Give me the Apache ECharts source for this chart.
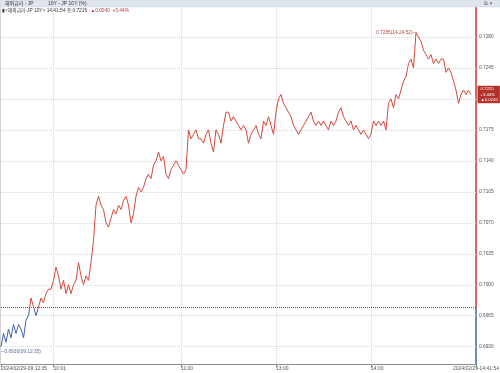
<!DOCTYPE html>
<html><head><meta charset="utf-8">
<script src="https://cdn.jsdelivr.net/npm/echarts@6/dist/echarts.min.js"></script>
<style>html,body{margin:0;padding:0;background:#fff}#c{width:500px;height:373px}</style>
</head><body><div id="c"></div>
<script>
// ---- data ----
const values = [
0.6930,0.6945,0.6935,0.6950,0.6940,0.6955,0.6945,0.6955,0.6950,0.6940,
0.6960,0.6965,0.6985,0.6975,0.6965,0.6975,0.6985,0.6980,0.6990,0.6995,
0.6995,0.7005,0.7020,0.7010,0.6995,0.7005,0.6990,0.7000,0.6990,0.7000,
0.7005,0.7025,0.7010,0.7000,0.7010,0.7005,0.7025,0.7050,0.7090,0.7100,
0.7090,0.7085,0.7070,0.7065,0.7075,0.7085,0.7080,0.7090,0.7085,0.7095,
0.7100,0.7090,0.7070,0.7080,0.7100,0.7110,0.7105,0.7110,0.7120,0.7125,
0.7120,0.7135,0.7140,0.7150,0.7140,0.7145,0.7125,0.7120,0.7130,0.7135,
0.7140,0.7135,0.7130,0.7125,0.7130,0.7175,0.7165,0.7170,0.7175,0.7165,
0.7165,0.7160,0.7170,0.7175,0.7160,0.7150,0.7175,0.7170,0.7160,0.7180,
0.7195,0.7195,0.7185,0.7190,0.7185,0.7180,0.7175,0.7180,0.7175,0.7160,
0.7170,0.7175,0.7180,0.7170,0.7165,0.7185,0.7180,0.7190,0.7180,0.7170,
0.7195,0.7210,0.7215,0.7205,0.7200,0.7195,0.7190,0.7180,0.7175,0.7170,
0.7175,0.7180,0.7185,0.7190,0.7195,0.7185,0.7180,0.7185,0.7180,0.7185,
0.7180,0.7175,0.7185,0.7180,0.7185,0.7195,0.7200,0.7190,0.7185,0.7180,
0.7185,0.7175,0.7180,0.7175,0.7170,0.7175,0.7170,0.7165,0.7170,0.7185,
0.7180,0.7185,0.7180,0.7185,0.7175,0.7205,0.7210,0.7200,0.7215,0.7210,
0.7220,0.7230,0.7235,0.7250,0.7255,0.7245,0.7285,0.7280,0.7275,0.7265,
0.7260,0.7255,0.7260,0.7250,0.7255,0.7250,0.7255,0.7255,0.7240,0.7245,
0.7240,0.7230,0.7220,0.7205,0.7215,0.7220,0.7215,0.7220,0.7215
];
const slotCount = 191;                 // category slots on the time axis
const tickIndex = [0, 21, 72, 110, 148, 190];
const tickText  = ['2024/02/29-09:12:35', '10:01', '11:00', '13:00', '14:00', '2024/02/29-14:41:54'];
const yTicks = [0.6930, 0.6965, 0.7000, 0.7035, 0.7070, 0.7105, 0.7140, 0.7175, 0.7210, 0.7245, 0.7280];
const prevClose = 0.6975;
const lastValue = 0.7215;
const changeText = '▲0.0240';
const pctText = '+3.44%';
const highIndex = 166, highValue = 0.7285, highTime = '14:24:52';
const lowIndex = 0, lowValue = 0.6930, lowTime = '09:12:35';
const yMin = 0.6910, yMax = 0.7315;

// ---- styling ----
const RED = '#d4473a', BLUE = '#3d63b0', AXRED = '#c9352c';
const FONT = 'Liberation Sans, Noto Sans CJK KR, sans-serif';
const categories = Array.from({length: slotCount}, (_, i) => String(i));
const isTick = (i) => tickIndex.indexOf(i) >= 0;
const isMajor = (v) => yTicks.some(t => Math.abs(t - v) < 1e-7);
const axFrac = (yMax - prevClose) / (yMax - yMin);
const dMax = Math.max(...values), dMin = Math.min(...values);
const lineFrac = (dMax - prevClose) / (dMax - dMin);
const split = (top, bottom, f) => ({type: 'linear', x: 0, y: 0, x2: 0, y2: 1,
  colorStops: [{offset: 0, color: top}, {offset: f, color: top}, {offset: f, color: bottom}, {offset: 1, color: bottom}]});

const chart = echarts.init(document.getElementById('c'), null, {renderer: 'canvas'});
chart.setOption({
  animation: false,
  backgroundColor: '#fff',
  textStyle: {fontFamily: FONT},
  grid: {left: 1, right: 24, top: 6, bottom: 8.6, outerBoundsMode: 'none'},
  xAxis: {
    type: 'category', data: categories, boundaryGap: false,
    axisLine: {lineStyle: {color: '#8a8a8a', width: 1}},
    axisTick: {show: true, interval: (i) => isTick(i), length: 3, lineStyle: {color: '#8a8a8a'}},
    axisLabel: {
      interval: (i) => isTick(i), fontSize: 5, color: '#555', margin: 2, align: 'left',
      alignMaxLabel: 'center', fontFamily: FONT,
      formatter: (v, i) => { const k = tickIndex.indexOf(Number(v)); return k >= 0 ? tickText[k] : ''; }
    },
    splitLine: {show: true, interval: (i) => isTick(i) && i > 0 && i < slotCount - 1,
      lineStyle: {color: '#d8d8d8', type: 'dotted', width: 1}}
  },
  yAxis: {
    type: 'value', position: 'right', min: yMin, max: yMax, interval: 0.0005,
    axisLine: {show: true, lineStyle: {width: 1.5, color: split(AXRED, BLUE, axFrac)}},
    axisTick: {show: false},
    splitLine: {show: false},
    axisLabel: {fontSize: 4.8, color: '#555', margin: 3, fontFamily: FONT,
      formatter: (v) => isMajor(v) ? v.toFixed(4) : ''}
  },
  series: [{
    type: 'line', data: values, showSymbol: false, symbol: 'none',
    lineStyle: {width: 1, color: split(RED, BLUE, lineFrac)}, z: 5,
    markLine: {
      silent: true, symbol: ['none', 'none'], animation: false, precision: 4,
      data: [
        ...yTicks.map(t => ({yAxis: t, lineStyle: {color: '#d8d8d8', type: 'dotted', width: 1}, label: {show: false}})),
        {yAxis: prevClose, lineStyle: {color: '#555', type: 'dotted', width: 1}, label: {show: false}},
        {yAxis: lastValue, lineStyle: {color: 'rgba(0,0,0,0)', width: 0},
          label: {show: true, position: 'end', distance: 1.5, formatter: lastValue.toFixed(4) + '\n' + pctText + '\n' + changeText,
            backgroundColor: '#b5302a', color: '#fff', fontSize: 4.3, lineHeight: 5.3, padding: [1, 2, 0.5, 3],
            align: 'left', fontFamily: FONT}}
      ]
    },
    markPoint: {
      silent: true, symbol: 'circle', symbolSize: 0, precision: 4,
      data: [
        {coord: [highIndex, highValue], label: {show: true, position: 'left', distance: 0,
          formatter: highValue.toFixed(4) + '(' + highTime + ')\u2500', color: '#b04a3c', fontSize: 4.8, fontFamily: FONT}},
        {coord: [lowIndex, lowValue], label: {show: true, position: [0, 3], align: 'left', verticalAlign: 'top',
          formatter: '\u2500' + lowValue.toFixed(4) + '(' + lowTime + ')', color: '#5a6e9c', fontSize: 4.8, fontFamily: FONT}}
      ]
    }
  }],
  graphic: [
    {type: 'rect', z: 100, shape: {x: 0, y: 0, width: 500, height: 7}, style: {fill: '#dfe5ee', stroke: '#c8d0dc', lineWidth: 0.5}},
    {type: 'text', z: 101, x: 5, y: 3.6, style: {text: '해외금리 - JP', fontSize: 5, fill: '#333', verticalAlign: 'middle', fontFamily: FONT}},
    {type: 'text', z: 101, x: 48, y: 3.6, style: {text: '10Y - JP 10Y (%)', fontSize: 5, fill: '#333', verticalAlign: 'middle', fontFamily: FONT}},
    {type: 'text', z: 101, x: 484, y: 3.6, style: {text: '⧉ ×', fontSize: 5, fill: '#444', verticalAlign: 'middle', fontFamily: FONT}},
    {type: 'text', z: 101, x: 2, y: 10.5, style: {
      text: '{a|▮<해외금리-JP 10Y> 14:41:54 종:' + lastValue.toFixed(4) + '} {b|' + changeText + '  ' + pctText + '}',
      rich: {a: {fontSize: 4.8, fill: '#333', fontFamily: FONT}, b: {fontSize: 4.8, fill: '#c0392b', fontFamily: FONT}},
      verticalAlign: 'middle'}},
    {type: 'rect', z: 0, shape: {x: 0, y: 7, width: 0.8, height: 358}, style: {fill: '#c8c8c8'}}
  ]
});
</script>
</body></html>
